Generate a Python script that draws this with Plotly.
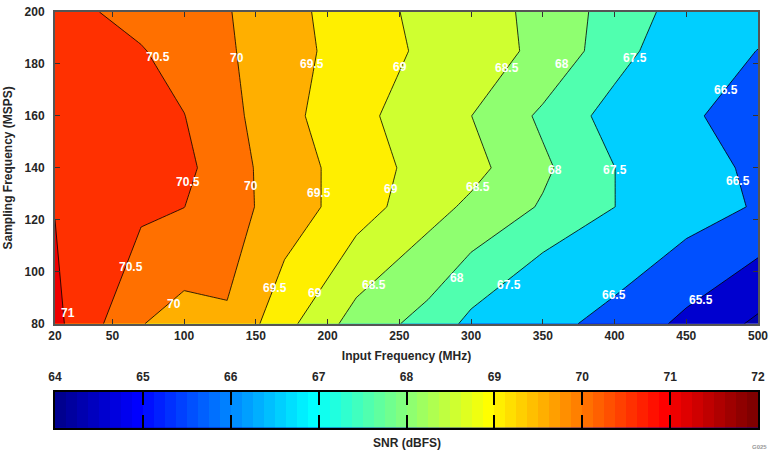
import plotly.graph_objects as go

# ---------------- data ----------------
INPUT_FREQ_MHZ = [10, 70, 100, 130, 170, 220, 270, 300, 350, 400, 450, 500]
SAMPLING_FREQ_MSPS = [80, 125, 140, 160, 185, 200]

SNR_80 = [71.12, 70.02, 69.80, 69.95, 69.16, 68.29, 67.82, 67.37, 66.80, 66.19, 65.27, 64.32]
SNR_125 = [70.985, 70.60, 70.505, 70.20, 69.78, 69.23, 68.69, 68.40, 67.95, 67.505, 66.96, 66.41]
SNR_140 = [70.92, 70.76, 70.63, 70.21, 69.75, 69.26, 68.80, 68.66, 68.09, 67.505, 66.91, 66.31]
SNR_160 = [70.85, 70.62, 70.51, 70.15, 69.65, 69.13, 68.73, 68.505, 67.91, 67.30, 66.66, 66.02]
SNR_185 = [70.80, 70.53, 70.31, 70.06, 69.69, 69.27, 68.90, 68.71, 68.40, 67.71, 67.11, 66.48]
SNR_200 = [70.66, 70.35, 70.19, 70.03, 69.67, 69.22, 68.86, 68.68, 68.39, 67.78, 67.30, 66.90]

CONTOUR_LEVELS = [64.5, 65.5, 66.5, 67.5, 68, 68.5, 69, 69.5, 70, 70.5, 71]

# contour label placements (input MHz, sampling MSPS, level text)
LABEL_X = [19, 82, 103, 63, 137, 146.5, 93, 189, 194, 163, 250.5, 244, 191.5,
           325, 305, 232.5, 363.5, 358.5, 290.5, 414, 400, 326.5, 478, 486, 399.5, 460]
LABEL_Y = [84, 182.6, 134.5, 102, 182.2, 133, 87.6, 180, 130.4, 93.6, 178.8, 131.9, 91.7,
           178.4, 132.6, 94.8, 180, 139.1, 97.8, 182.2, 139.1, 94.8, 170.1, 134.9, 91, 89.1]
LABEL_TEXT = ["71", "70.5", "70.5", "70.5", "70", "70", "70", "69.5", "69.5", "69.5",
              "69", "69", "69", "68.5", "68.5", "68.5", "68", "68", "68",
              "67.5", "67.5", "67.5", "66.5", "66.5", "66.5", "65.5"]

X_TICK_VALS = [10, 50, 100, 150, 200, 250, 300, 350, 400, 450, 500]
X_TICK_TEXT = ["20", "50", "100", "150", "200", "250", "300", "350", "400", "450", "500"]
Y_TICK_VALS = [80, 100, 120, 140, 160, 180, 200]
CBAR_TICKS = [64, 65, 66, 67, 68, 69, 70, 71, 72]
CLIM = (64, 72)
N_COLORS = 64

Z = [SNR_80, SNR_125, SNR_140, SNR_160, SNR_185, SNR_200]

# ---------------- colour map (64-step jet) ----------------
def jet(i):
    if i <= 8:
        r, g, b = 0, 0, 0.5 + i / 16
    elif i <= 24:
        r, g, b = 0, (i - 8) / 16, 1
    elif i <= 40:
        r, g, b = (i - 24) / 16, 1, 1 - (i - 24) / 16
    elif i <= 56:
        r, g, b = 1, 1 - (i - 40) / 16, 0
    else:
        r, g, b = 1 - (i - 56) / 16, 0, 0
    return "rgb(%d,%d,%d)" % (round(r * 255), round(g * 255), round(b * 255))


def value_color(v):
    i = int((v - CLIM[0]) / (CLIM[1] - CLIM[0]) * N_COLORS) + 1
    return jet(max(1, min(N_COLORS, i)))


FONT = "Liberation Sans, Arial, sans-serif"
TXT = "#262626"

fig = go.Figure()

# each level: shade the region above it (constraint traces shade the excluded side)
for lev in CONTOUR_LEVELS:
    fig.add_trace(go.Contour(
        x=INPUT_FREQ_MHZ, y=SAMPLING_FREQ_MSPS, z=Z,
        contours=dict(type="constraint", operation="<", value=lev, showlabels=False),
        fillcolor=value_color(lev),
        line=dict(color="black", width=0.8, smoothing=0),
        showscale=False, hoverinfo="skip",
        xaxis="x", yaxis="y",
    ))

# colour bar drawn as a one-row heatmap on its own axes
cscale = []
for k in range(N_COLORS):
    c = jet(k + 1)
    cscale.append([k / N_COLORS, c])
    cscale.append([(k + 1) / N_COLORS, c])
step = (CLIM[1] - CLIM[0]) / N_COLORS
fig.add_trace(go.Heatmap(
    z=[list(range(N_COLORS))], x0=CLIM[0] + step / 2, dx=step, y0=0.5, dy=1,
    colorscale=cscale, zmin=-0.5, zmax=N_COLORS - 0.5, showscale=False,
    hoverinfo="skip", xaxis="x2", yaxis="y2",
))

main_dom_bottom = (428 - 322) / 423
cb_top = (428 - 391) / 423

annotations = [
    dict(text=t, x=lx, y=ly, xref="x", yref="y", showarrow=False,
         xanchor="center", yanchor="middle",
         font=dict(size=12, family=FONT, color="white", weight="bold"))
    for lx, ly, t in zip(LABEL_X, LABEL_Y, LABEL_TEXT)
]
annotations += [
    dict(text="SNR (dBFS)", xref="paper", yref="paper", x=0.5, y=(428 - 443) / 423,
         xanchor="center", yanchor="middle", showarrow=False,
         font=dict(size=12, family=FONT, color=TXT, weight="bold")),
    dict(text="G025", xref="paper", yref="paper", x=1.0, y=(428 - 447) / 423,
         xanchor="left", yanchor="middle", showarrow=False, xshift=-8,
         font=dict(size=6, family=FONT, color="#999")),
]

fig.update_layout(
    width=773, height=450,
    margin=dict(l=55, r=11, t=5, b=22),
    paper_bgcolor="white",
    plot_bgcolor=value_color(min(min(r) for r in Z)),
    font=dict(family=FONT, color=TXT, size=12, weight="bold"),
    showlegend=False,
    xaxis=dict(
        domain=[0, 1], range=[10, 500], anchor="y",
        tickvals=X_TICK_VALS, ticktext=X_TICK_TEXT,
        ticks="inside", ticklen=5, tickcolor="#333", tickwidth=1,
        showline=True, linecolor="#555", linewidth=2, mirror="ticks",
        showgrid=False, zeroline=False,
        tickfont=dict(size=12, family=FONT, color=TXT, weight="bold"),
        ticklabelstandoff=0,
        title=dict(text="Input Frequency (MHz)", standoff=9,
                   font=dict(size=12, family=FONT, color=TXT, weight="bold")),
    ),
    yaxis=dict(
        domain=[main_dom_bottom, 1], range=[80, 200], anchor="x",
        tickvals=Y_TICK_VALS,
        ticks="inside", ticklen=5, tickcolor="#333", tickwidth=1,
        showline=True, linecolor="#555", linewidth=2, mirror="ticks",
        showgrid=False, zeroline=False,
        tickfont=dict(size=12, family=FONT, color=TXT, weight="bold"),
        ticklabelstandoff=6,
        title=dict(text="Sampling Frequency (MSPS)", standoff=9,
                   font=dict(size=12, family=FONT, color=TXT, weight="bold")),
    ),
    xaxis2=dict(
        domain=[0, 1], range=[CLIM[0], CLIM[1]], anchor="y2", side="top",
        tickvals=CBAR_TICKS,
        ticks="inside", ticklen=13, tickcolor="black", tickwidth=1.5,
        showline=True, linecolor="black", linewidth=2, mirror="ticks",
        showgrid=False, zeroline=False,
        tickfont=dict(size=12, family=FONT, color=TXT, weight="bold"),
        ticklabelstandoff=4,
    ),
    yaxis2=dict(
        domain=[0, cb_top], range=[0, 1], anchor="x2",
        showticklabels=False, ticks="",
        showline=True, linecolor="black", linewidth=2, mirror=True,
        showgrid=False, zeroline=False,
    ),
    annotations=annotations,
)

fig.write_html("out.html")
